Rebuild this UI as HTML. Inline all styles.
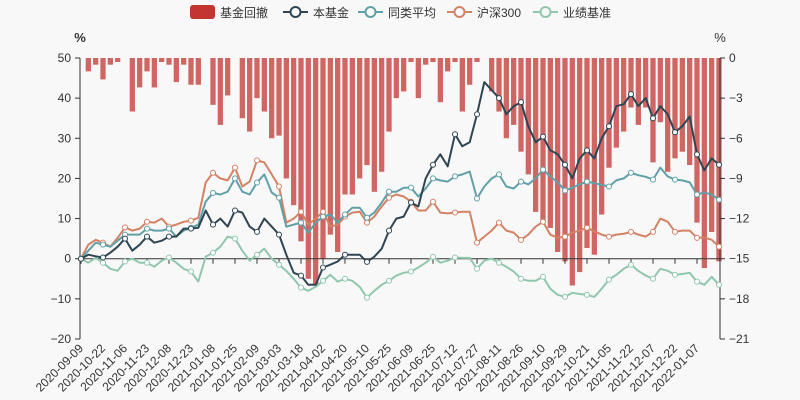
<!DOCTYPE html>
<html><head><meta charset="utf-8"><style>
body{margin:0;background:#f8f8f8;}
svg{display:block;font-family:"Liberation Sans","Noto Sans CJK SC",sans-serif;}
</style></head><body>
<svg id="c" width="800" height="400" xmlns="http://www.w3.org/2000/svg">
<rect width="800" height="400" fill="#f8f8f8"/>
<g id="legend"></g>
<g id="bars"></g>
<g id="axes"></g>
<g id="lines"></g>
</svg>
<script>
const dateLabels=["2020-09-09","2020-10-22","2020-11-06","2020-11-23","2020-12-08","2020-12-23","2021-01-08","2021-01-25","2021-02-09","2021-03-03","2021-03-18","2021-04-02","2021-04-20","2021-05-10","2021-05-25","2021-06-09","2021-06-25","2021-07-12","2021-07-27","2021-08-11","2021-08-26","2021-09-10","2021-09-29","2021-10-21","2021-11-05","2021-11-22","2021-12-07","2021-12-22","2022-01-07"];
const leftTicks=[50,40,30,20,10,0,-10,-20];
const rightTicks=[0,-3,-6,-9,-12,-15,-18,-21];
const fund=[0,1,0.6,0.3,1.5,3,5,2,3.5,5.5,4,4.5,5.5,5.5,7.5,7.5,7.7,12,8.5,10,8,12,11.5,8,6.7,10,8,6,1,-3.5,-4.2,-6.5,-6.5,-2.2,-1.5,-0.7,1,1,1,-0.8,0.5,2.5,7,10,10.5,14,13,20,23.4,26,23,31,28,29,36,44,42,40,36,38,39,33,29,30.4,27,26,23.4,20,25,27,25,30,33,38,38.5,41,38,40,35,38,36,31.5,33,35.4,26,22,25,23.4];
const peer=[0,2,4,3.5,3,4.5,6,6,6,7.5,7,7,7.5,5.5,7,7.7,8.5,14.2,16.4,16,16.7,20,16.7,16,19,21,16.5,15.2,8,8.5,9,6.5,9,10.5,11,9,11,12.7,12.7,10.2,11.5,14,16.7,16.7,17.7,17.7,15.5,17.5,20,19.5,19.2,20.5,21,21.7,15,18,20,21,18,17.5,19.2,18.5,20,22.2,20.5,19,17,17.7,18.5,19.2,18.8,18.4,18,19.5,20,21.4,20.8,20.4,19.7,22.7,20.5,19.7,19.5,19,16,16.5,16,14.7];
const hs300=[0,3.5,4.7,4,3,5.2,7.8,7,7.5,9.2,9,10,8,8.5,9.2,9.5,10.2,19,21.4,20,19.5,22.7,18,19.2,24.5,24,21,18,9,10,11.7,8.5,10,11.7,8,8.5,10.5,11.5,11.7,9,10.5,13,15.2,16,15.5,14.2,12,12,14.2,11.5,11.3,11.5,11.7,11.7,4,5.5,7,9,7,6.5,4.7,6,8,9.2,6,5.2,5.5,6.5,7,7.7,6.8,6,5.5,6,6.2,6.7,6,5.5,6.7,10,9.2,6.7,7,7,5.2,5.3,4.7,3];
const bench=[0,-1,0.2,-1,-2.5,-3,-0.7,0,-1,-1,-2,-0.5,0.3,-1,-2.5,-3.2,-5.7,0.5,1.5,3,5.5,5,2,-0.5,1,2.5,0,-1.5,-3,-5,-7.2,-8,-7,-5.5,-4,-5.7,-5,-5.5,-7,-9.7,-8,-6.5,-5.5,-4.2,-3.5,-3.2,-2.2,-1,0.5,-1,-0.5,0.3,0.2,0.2,-2.5,-0.5,0,-1,-2,-3.2,-5,-5.5,-5.5,-4.5,-7.5,-9,-9.5,-8.5,-8.8,-9,-9.5,-7.5,-5.2,-4,-2.5,-1.5,-3,-4.2,-5,-2.5,-3,-4,-3.8,-3.5,-5.7,-6.5,-4.5,-6.5];
const drawdown=[0,-1,-0.5,-1.6,-0.5,-0.3,0,-4,-2.2,-1,-2.2,-0.3,-0.5,-1.8,-0.5,-2,-2,0,-3.5,-5,-2.8,0,-4.5,-5.5,-3,-4,-6,-5.8,-9,-11,-13.7,-16.5,-17,-15,-13.2,-14.5,-10.2,-10.2,-9,-8,-10,-8.5,-5.5,-3,-2.5,-0.3,-3,-0.5,-0.3,-3.3,-1,-0.3,-4,-2,-0.3,0,-2.5,-4,-6,-5,-7,-8.7,-11.5,-12.3,-12.7,-14.5,-15.2,-17,-16,-14.2,-14.7,-11.7,-8.2,-6.7,-5.5,-3.7,-5,-3.7,-7.8,-4.8,-8.5,-7.5,-7,-8,-12.3,-15.7,-13,-15.2];

const NS="http://www.w3.org/2000/svg";
const X0=81,X1=719,YT=58,YB=339;
const N=fund.length;
const LABEL_STEP=3;
function xAt(i){return X0+(X1-X0)*i/(N-1);}
function yL(v){return YT+(50-v)*(YB-YT)/70;}
function yR(v){return YT+(0-v)*(YB-YT)/21;}
function mk(tag,attrs,parent){const e=document.createElementNS(NS,tag);for(const k in attrs)e.setAttribute(k,attrs[k]);parent.appendChild(e);return e;}
const bars=document.getElementById('bars'),axes=document.getElementById('axes'),lines=document.getElementById('lines'),legend=document.getElementById('legend');

// bars
const bw=(X1-X0)/(N-1)*0.72;
drawdown.forEach((d,i)=>{
  const y=yR(d);
  const r=mk('rect',{x:xAt(i)-bw/2,y:YT,width:bw,height:Math.max(0,y-YT),fill:'#c23531','fill-opacity':0.75},bars);
  
  
});

// axes
let a=mk('line',{x1:80,y1:YT,x2:80,y2:YB,stroke:'#333'},axes);

a=mk('line',{x1:720,y1:YT,x2:720,y2:YB,stroke:'#333'},axes);

a=mk('line',{x1:80,y1:yL(0),x2:720,y2:yL(0),stroke:'#333'},axes);

leftTicks.forEach(v=>{
  const y=yL(v);
  mk('line',{x1:75,y1:y,x2:80,y2:y,stroke:'#333'},axes);
  const t=mk('text',{x:71,y:y+4,'text-anchor':'end','font-size':12,fill:'#333'},axes);
  t.textContent=String(v).replace('-','\u2212');
  
});
rightTicks.forEach(v=>{
  const y=yR(v);
  mk('line',{x1:720,y1:y,x2:725,y2:y,stroke:'#333'},axes);
  const t=mk('text',{x:729,y:y+4,'text-anchor':'start','font-size':12,fill:'#333'},axes);
  t.textContent=String(v).replace('-','\u2212');
  
});
let u=mk('text',{x:80,y:42,'text-anchor':'middle','font-size':13,fill:'#333','font-weight':'bold'},axes);u.textContent='%';

u=mk('text',{x:720,y:42,'text-anchor':'middle','font-size':13,fill:'#333'},axes);u.textContent='%';

dateLabels.forEach((lab,k)=>{
  const x=xAt(k*LABEL_STEP);
  mk('line',{x1:x,y1:yL(0),x2:x,y2:yL(0)+5,stroke:'#333'},axes);
  const t=mk('text',{x:x+3,y:349,'text-anchor':'end','font-size':12,fill:'#333',transform:`rotate(-45 ${x+3} 349)`},axes);
  t.textContent=lab;
  
});

// lines
const series=[[bench,'#91c7ae','benchmark-line'],[hs300,'#d48265','hs300-line'],[peer,'#61a0a8','peer-average-line'],[fund,'#2f4554','fund-line']];
series.forEach(([arr,col,name])=>{
  const d=arr.map((v,i)=>(i?'L':'M')+xAt(i).toFixed(1)+' '+yL(v).toFixed(1)).join(' ');
  const p=mk('path',{d:d,fill:'none',stroke:col,'stroke-width':2,'stroke-linejoin':'round'},lines);
  
  
  arr.forEach((v,i)=>{ if(i%LABEL_STEP===0){
    const c=mk('circle',{cx:xAt(i),cy:yL(v),r:2.5,fill:'#fff',stroke:col,'stroke-width':1},lines);
    
    
  }});
});

// legend
const legItems=[['基金回撤','#c23531',190,'bar'],['本基金','#2f4554',283,'line'],['同类平均','#61a0a8',358,'line'],['沪深300','#d48265',447,'line'],['业绩基准','#91c7ae',533,'line']];
legItems.forEach(([txt,col,x,type])=>{
  const g=mk('g',{},legend);
  
  
  if(type==='bar'){mk('rect',{x:x,y:5,width:25,height:14,rx:3,fill:'#c23531'},g);}
  else{mk('line',{x1:x,y1:12,x2:x+25,y2:12,stroke:col,'stroke-width':2},g);
       mk('circle',{cx:x+12.5,cy:12,r:5,fill:'#f8f8f8',stroke:col,'stroke-width':2},g);}
  const t=mk('text',{x:x+30,y:17,'font-size':12,fill:'#333'},g);t.textContent=txt;
});
</script>
</body></html>
